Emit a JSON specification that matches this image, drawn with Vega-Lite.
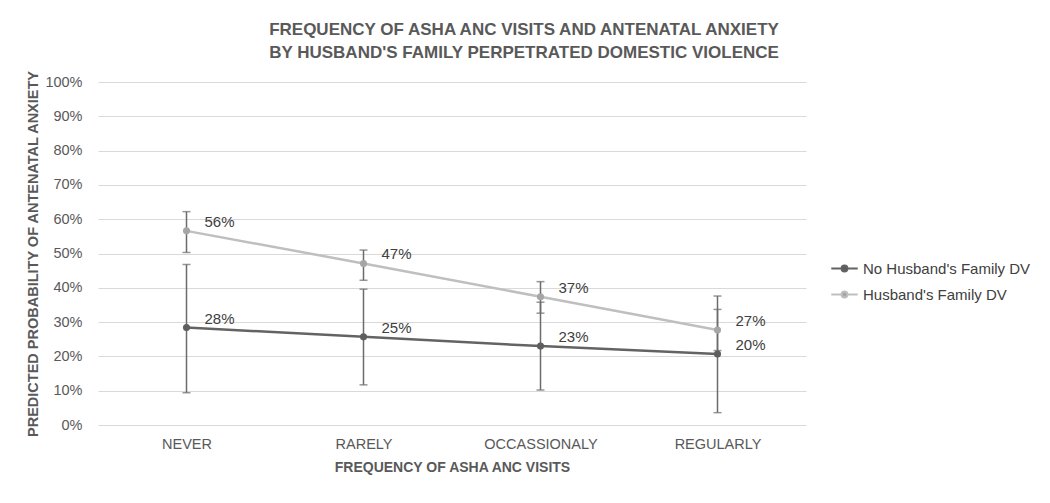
{
  "$schema": "https://vega.github.io/schema/vega-lite/v6.json",
  "width": 708,
  "height": 343,
  "autosize": "none",
  "padding": {"left": 98, "top": 82, "right": 244, "bottom": 78},
  "background": "white",
  "title": {
    "text": ["FREQUENCY OF ASHA ANC VISITS AND ANTENATAL ANXIETY", "BY HUSBAND'S FAMILY PERPETRATED DOMESTIC VIOLENCE"],
    "font": "Liberation Sans",
    "fontSize": 17,
    "fontWeight": "bold",
    "color": "#595959",
    "lineHeight": 23,
    "anchor": "middle",
    "dx": 72,
    "offset": 8
  },
  "data": {
    "values": [
      {"freq": "NEVER", "series": "No Husband's Family DV", "p": 28.4, "lo": 9.4, "hi": 46.8, "label": "28%"},
      {"freq": "RARELY", "series": "No Husband's Family DV", "p": 25.7, "lo": 11.7, "hi": 39.6, "label": "25%"},
      {"freq": "OCCASSIONALY", "series": "No Husband's Family DV", "p": 23.0, "lo": 10.2, "hi": 35.8, "label": "23%"},
      {"freq": "REGULARLY", "series": "No Husband's Family DV", "p": 20.7, "lo": 3.6, "hi": 37.6, "label": "20%"},
      {"freq": "NEVER", "series": "Husband's Family DV", "p": 56.6, "lo": 50.3, "hi": 62.2, "label": "56%"},
      {"freq": "RARELY", "series": "Husband's Family DV", "p": 47.1, "lo": 42.2, "hi": 51.0, "label": "47%"},
      {"freq": "OCCASSIONALY", "series": "Husband's Family DV", "p": 37.4, "lo": 32.6, "hi": 41.8, "label": "37%"},
      {"freq": "REGULARLY", "series": "Husband's Family DV", "p": 27.7, "lo": 21.7, "hi": 33.7, "label": "27%"}
    ]
  },
  "encoding": {
    "x": {
      "field": "freq",
      "type": "nominal",
      "sort": ["NEVER", "RARELY", "OCCASSIONALY", "REGULARLY"],
      "scale": {"type": "point", "padding": 0.5},
      "axis": {
        "title": "FREQUENCY OF ASHA ANC VISITS",
        "titleFont": "Liberation Sans",
        "titleFontSize": 14,
        "titleFontWeight": "bold",
        "titleColor": "#595959",
        "titlePadding": 10,
        "labelAngle": 0,
        "labelFont": "Liberation Sans",
        "labelFontSize": 14.5,
        "labelColor": "#595959",
        "labelPadding": 12,
        "ticks": false,
        "domain": false,
        "grid": false
      }
    },
    "y": {
      "field": "p",
      "type": "quantitative",
      "scale": {"domain": [0, 100]},
      "axis": {
        "title": "PREDICTED PROBABILITY OF ANTENATAL ANXIETY",
        "titleFont": "Liberation Sans",
        "titleFontSize": 14.5,
        "titleFontWeight": "bold",
        "titleColor": "#595959",
        "titlePadding": 4,
        "values": [0, 10, 20, 30, 40, 50, 60, 70, 80, 90, 100],
        "labelExpr": "datum.value + '%'",
        "labelFont": "Liberation Sans",
        "labelFontSize": 14.5,
        "labelColor": "#595959",
        "labelPadding": 16,
        "ticks": false,
        "domain": false,
        "grid": true,
        "gridColor": "#d9d9d9",
        "gridWidth": 1.2
      }
    }
  },
  "layer": [
    {
      "mark": {"type": "rule", "color": "#6b6b6b", "strokeWidth": 1.5},
      "encoding": {"y": {"field": "lo", "type": "quantitative"}, "y2": {"field": "hi"}}
    },
    {
      "mark": {"type": "tick", "color": "#6b6b6b", "size": 8, "thickness": 1.5},
      "encoding": {"y": {"field": "lo", "type": "quantitative"}}
    },
    {
      "mark": {"type": "tick", "color": "#6b6b6b", "size": 8, "thickness": 1.5},
      "encoding": {"y": {"field": "hi", "type": "quantitative"}}
    },
    {
      "mark": {"type": "line", "strokeWidth": 2.5},
      "encoding": {
        "color": {
          "field": "series",
          "type": "nominal",
          "scale": {"domain": ["No Husband's Family DV", "Husband's Family DV"], "range": ["#636363", "#bfbfbf"]},
          "legend": {
            "title": null,
            "orient": "none",
            "legendX": 732,
            "legendY": 172,
            "labelFont": "Liberation Sans",
            "labelFontSize": 15,
            "labelColor": "#404040",
            "labelLimit": 400,
            "rowPadding": 3,
            "symbolType": "M -1 0 L -0.22 0 M 0.22 0 L 1 0 M 0.22 0 A 0.22 0.22 0 1 1 -0.22 0 A 0.22 0.22 0 1 1 0.22 0",
            "symbolSize": 700,
            "symbolStrokeWidth": 2,
            "labelOffset": 4,
            "encode": {"symbols": {"update": {"fill": {"scale": "color", "field": "value"}}}}
          }
        }
      }
    },
    {
      "mark": {"type": "circle", "size": 50, "opacity": 1},
      "encoding": {
        "fill": {
          "field": "series",
          "type": "nominal",
          "scale": {"domain": ["No Husband's Family DV", "Husband's Family DV"], "range": ["#5e5e5e", "#a6a6a6"]},
          "legend": null
        }
      }
    },
    {
      "mark": {"type": "text", "align": "left", "baseline": "middle", "dx": 18, "dy": -9, "font": "Liberation Sans", "fontSize": 15, "color": "#404040"},
      "encoding": {"text": {"field": "label"}}
    }
  ],
  "config": {"view": {"stroke": null}}
}
